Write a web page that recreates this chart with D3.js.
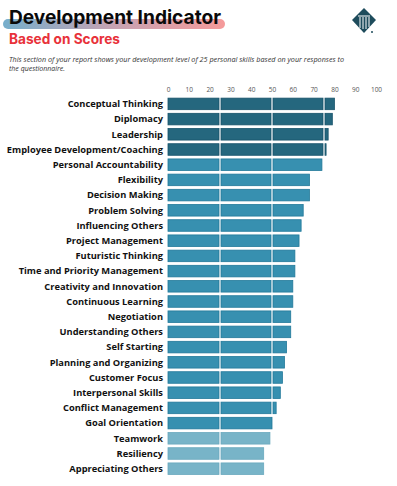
<!DOCTYPE html>
<html><head><meta charset="utf-8">
<script src="https://cdn.jsdelivr.net/npm/d3@7"></script>
<style>body{margin:0;background:#fff}svg{display:block}</style>
</head><body>
<script>
const skills = ["Conceptual Thinking","Diplomacy","Leadership","Employee Development/Coaching","Personal Accountability","Flexibility","Decision Making","Problem Solving","Influencing Others","Project Management","Futuristic Thinking","Time and Priority Management","Creativity and Innovation","Continuous Learning","Negotiation","Understanding Others","Self Starting","Planning and Organizing","Customer Focus","Interpersonal Skills","Conflict Management","Goal Orientation","Teamwork","Resiliency","Appreciating Others"];
const scores = [80,79,77,76,74,68,68,65,64,63,61,61,60,60,59,59,57,56,55,54,52,50,49,46,46];
const levels = ["high","high","high","high","mid","mid","mid","mid","mid","mid","mid","mid","mid","mid","mid","mid","mid","mid","mid","mid","mid","mid","low","low","low"];
const ticks = [0,10,20,30,40,50,60,70,80,90,100];
const segments = [[0,25],[25,50],[50,75],[75,100]];

const W=397,H=486;
const svg=d3.select("body").append("svg").attr("width",W).attr("height",H);

// Title gradient band
const defs=svg.append("defs");
const g=defs.append("linearGradient").attr("id","tg").attr("x1","0").attr("x2","1");
g.append("stop").attr("offset","0").attr("stop-color","#76aecb");
g.append("stop").attr("offset","0.5").attr("stop-color","#c7a3b3");
g.append("stop").attr("offset","1").attr("stop-color","#f59a9a");
svg.append("rect").attr("x",3).attr("y",19).attr("width",222).attr("height",10).attr("rx",5).attr("fill","url(#tg)");
svg.append("text").attr("x",9).attr("y",24).attr("font-family","Inter, 'Noto Sans', sans-serif").attr("font-weight",700)
  .attr("font-size",19).attr("fill","#0a0a0a").attr("textLength",212).attr("lengthAdjust","spacingAndGlyphs").text("Development Indicator");
svg.append("text").attr("x",9).attr("y",44).attr("font-family","Inter, 'Noto Sans', sans-serif").attr("font-weight",700)
  .attr("font-size",14).attr("fill","#e8323a").attr("textLength",111).attr("lengthAdjust","spacingAndGlyphs").text("Based on Scores");
const desc=svg.append("text").attr("font-family","'Open Sans', sans-serif").attr("font-style","italic").attr("font-size",7).attr("fill","#333");
desc.append("tspan").attr("x",9).attr("y",61.5).attr("textLength",335).attr("lengthAdjust","spacingAndGlyphs").text("This section of your report shows your development level of 25 personal skills based on your responses to");
desc.append("tspan").attr("x",9).attr("y",71).text("the questionnaire.");

// Logo
const logo=svg.append("g").attr("transform","translate(364,20)");
logo.append("path").attr("d","M0,-12 L12,0 L0,13 L-12,0 Z").attr("fill","#1e4c5c");
logo.append("path").attr("d","M-6,-4 L6,-4 M-4,-3 L-4,8 M-1,-3 L-1,9 M2,-3 L2,9 M5,-3 L5,7").attr("stroke","#fff").attr("stroke-width",1);
logo.append("circle").attr("cx",8).attr("cy",12).attr("r",1).attr("fill","#1e4c5c");

// Scales
const x=d3.scaleLinear().domain([0,100]).range([168,376]);
const y=d3.scaleBand().domain(skills).range([96.3,476.3]).paddingInner(0.24).paddingOuter(0.12);
const fillC={high:"#25677e",mid:"#3790b0",low:"#78b4c8"};
const strokeC={high:"#17536a",mid:"#22799a",low:"#6aa9be"};

// axis
const ax=svg.append("g").attr("transform","translate(0,92)")
  .call(d3.axisTop(x).tickValues(ticks).tickSize(0).tickPadding(0));
ax.select(".domain").remove();
ax.selectAll("text").attr("font-family","'Open Sans', sans-serif").attr("font-size",6.5).attr("fill","#555");

// labels
svg.append("g").selectAll("text").data(skills).join("text")
  .attr("x",163).attr("y",d=>y(d)+y.bandwidth()/2).attr("dy","0.35em").attr("text-anchor","end")
  .attr("font-family","'Open Sans', sans-serif").attr("font-weight",700).attr("font-size",9.3).attr("fill","#111").text(d=>d);

// bars
const rows=svg.append("g").selectAll("g").data(skills.map((s,i)=>({s,v:scores[i],l:levels[i]}))).join("g");
rows.each(function(d){
  const segs=segments.filter(([a])=>a<d.v).map(([a,b])=>[a,Math.min(b,d.v)]);
  d3.select(this).selectAll("rect").data(segs).join("rect")
    .attr("x",([a])=>x(a)+(a>0?1:0)).attr("y",y(d.s))
    .attr("width",([a,b])=>x(b)-x(a)-(a>0?1:0)-(b<d.v?1:0))
    .attr("height",y.bandwidth())
    .attr("fill",fillC[d.l]).attr("stroke",strokeC[d.l]).attr("stroke-width",0.8);
});
</script>
</body></html>
